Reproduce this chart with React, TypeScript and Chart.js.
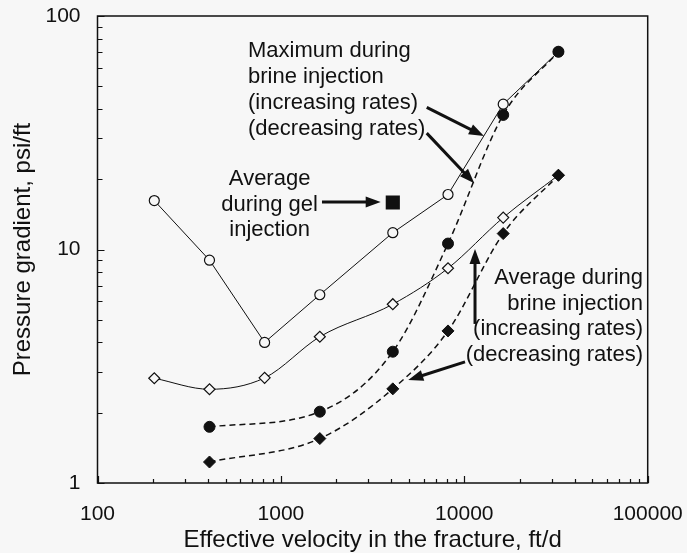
import React, { useEffect, useRef } from 'react';
import { Chart, registerables } from 'chart.js';

Chart.register(...registerables);

// ---- data ----
const VELOCITY_INCREASING = [204, 408, 815, 1630, 4075, 8150, 16300, 32600];
const VELOCITY_DECREASING = [408, 1630, 4075, 8150, 16300, 32600];
const MAX_BRINE_INCREASING = [16.2, 9.0, 4.0, 6.4, 11.8, 17.2, 41.9, 70.3];
const MAX_BRINE_DECREASING = [1.74, 2.02, 3.65, 10.6, 37.7, 70.3];
const AVG_BRINE_INCREASING = [2.81, 2.52, 2.82, 4.23, 5.83, 8.31, 13.7, 20.8];
const AVG_BRINE_DECREASING = [1.23, 1.55, 2.53, 4.48, 11.7, 20.8];
const GEL_VELOCITY = [4075];
const GEL_AVERAGE = [15.9];

const X_MAJOR = [100, 1000, 10000, 100000];
const Y_MAJOR = [1, 10, 100];
const X_TICK_LABELS = ['100', '1000', '10000', '100000'];
const Y_TICK_LABELS = ['1', '10', '100'];

const X_TITLE = 'Effective velocity in the fracture, ft/d';
const Y_TITLE = 'Pressure gradient, psi/ft';

// annotation texts (anchored in data coordinates)
const NOTE_MAX_LINES = ['Maximum during', 'brine injection', '(increasing rates)', '(decreasing rates)'];
const NOTE_GEL_LINES = ['Average', 'during gel', 'injection'];
const NOTE_AVG_LINES = ['Average during', 'brine injection', '(increasing rates)', '(decreasing rates)'];

const NOTE_MAX_ANCHOR = { x: 662, y: 71.1 };
const NOTE_GEL_ANCHOR = { x: 868, y: 20.1 };
const NOTE_AVG_ANCHOR = { x: 94300, y: 7.55 };

const ARROWS = [
  { from: { x: 6240, y: 40.6 }, to: { x: 12800, y: 30.6 } },
  { from: { x: 6240, y: 31.5 }, to: { x: 11340, y: 19.2 } },
  { from: { x: 1675, y: 15.97 }, to: { x: 3500, y: 15.97 } },
  { from: { x: 11440, y: 4.8 }, to: { x: 11440, y: 10.05 } },
  { from: { x: 10090, y: 3.3 }, to: { x: 4950, y: 2.76 } },
];

function minorTicks(majors: number[]): number[] {
  const out: number[] = [];
  for (let i = 0; i < majors.length; i++) {
    out.push(majors[i]);
    if (i < majors.length - 1) {
      for (let k = 2; k <= 9; k++) out.push(majors[i] * k);
    }
  }
  return out;
}
const X_TICKS = minorTicks(X_MAJOR);
const Y_TICKS = minorTicks(Y_MAJOR);

const FONT = '"Liberation Sans", Arial, Helvetica, sans-serif';
const BG = '#f7f7f7';
const INK = '#111111';

function pts(xs: number[], ys: number[]) {
  return xs.map((x, i) => ({ x, y: ys[i] }));
}

function drawArrow(ctx: CanvasRenderingContext2D, x1: number, y1: number, x2: number, y2: number) {
  const ang = Math.atan2(y2 - y1, x2 - x1);
  const head = 15;
  const hw = 5.5;
  const bx = x2 - head * Math.cos(ang);
  const by = y2 - head * Math.sin(ang);
  ctx.lineWidth = 3;
  ctx.beginPath();
  ctx.moveTo(x1, y1);
  ctx.lineTo(bx + Math.cos(ang), by + Math.sin(ang));
  ctx.stroke();
  ctx.beginPath();
  ctx.moveTo(x2, y2);
  ctx.lineTo(bx + hw * Math.sin(ang), by - hw * Math.cos(ang));
  ctx.lineTo(bx - hw * Math.sin(ang), by + hw * Math.cos(ang));
  ctx.closePath();
  ctx.fill();
}

function zeroPadding(s: any) {
  s.paddingTop = 0;
  s.paddingBottom = 0;
  s.paddingLeft = 0;
  s.paddingRight = 0;
}

const decorPlugin = {
  id: 'decor',
  beforeDraw(chart: any) {
    const { ctx, width, height } = chart;
    ctx.save();
    ctx.fillStyle = BG;
    ctx.fillRect(0, 0, width, height);
    ctx.restore();
  },
  afterDraw(chart: any) {
    const { ctx, chartArea } = chart;
    const xs = chart.scales.x;
    const ys = chart.scales.y;
    ctx.save();
    ctx.strokeStyle = INK;
    ctx.fillStyle = INK;
    // frame
    ctx.lineWidth = 1.5;
    ctx.strokeRect(chartArea.left, chartArea.top, chartArea.right - chartArea.left, chartArea.bottom - chartArea.top);
    // inward tick marks
    ctx.lineWidth = 1.2;
    ctx.beginPath();
    X_TICKS.forEach((v) => {
      const px = Math.round(xs.getPixelForValue(v)) + 0.5;
      const len = X_MAJOR.includes(v) ? 7 : 4;
      ctx.moveTo(px, chartArea.bottom);
      ctx.lineTo(px, chartArea.bottom - len);
    });
    Y_TICKS.forEach((v) => {
      const py = Math.round(ys.getPixelForValue(v)) + 0.5;
      const len = Y_MAJOR.includes(v) ? 7 : 5;
      ctx.moveTo(chartArea.left, py);
      ctx.lineTo(chartArea.left + len, py);
    });
    ctx.stroke();

    // annotation texts
    ctx.font = `22px ${FONT}`;
    ctx.textBaseline = 'middle';
    const drawLines = (lines: string[], anchor: { x: number; y: number }, align: CanvasTextAlign, lh: number) => {
      const ax = xs.getPixelForValue(anchor.x);
      const ay = ys.getPixelForValue(anchor.y);
      ctx.textAlign = align;
      lines.forEach((t, i) => ctx.fillText(t, ax, ay + i * lh));
    };
    drawLines(NOTE_MAX_LINES, NOTE_MAX_ANCHOR, 'left', 26);
    drawLines(NOTE_GEL_LINES, NOTE_GEL_ANCHOR, 'center', 25.8);
    drawLines(NOTE_AVG_LINES, NOTE_AVG_ANCHOR, 'right', 25.7);

    // arrows
    ARROWS.forEach((a) => {
      drawArrow(
        ctx,
        xs.getPixelForValue(a.from.x),
        ys.getPixelForValue(a.from.y),
        xs.getPixelForValue(a.to.x),
        ys.getPixelForValue(a.to.y)
      );
    });
    ctx.restore();
  },
};

export default function App() {
  const canvasRef = useRef<HTMLCanvasElement | null>(null);

  useEffect(() => {
    const canvas = canvasRef.current;
    if (!canvas) return;
    const chart = new Chart(canvas, {
      type: 'line',
      data: {
        datasets: [
          {
            label: 'Maximum during brine injection (decreasing rates)',
            data: pts(VELOCITY_DECREASING, MAX_BRINE_DECREASING),
            borderColor: INK,
            backgroundColor: INK,
            borderWidth: 1.5,
            borderDash: [6, 4],
            cubicInterpolationMode: 'monotone',
            pointStyle: 'circle',
            pointRadius: 5.5,
            pointBackgroundColor: INK,
            pointBorderColor: INK,
            pointBorderWidth: 1,
          },
          {
            label: 'Average during brine injection (decreasing rates)',
            data: pts(VELOCITY_DECREASING, AVG_BRINE_DECREASING),
            borderColor: INK,
            backgroundColor: INK,
            borderWidth: 1.5,
            borderDash: [6, 4],
            cubicInterpolationMode: 'monotone',
            pointStyle: 'rectRot',
            pointRadius: 6,
            pointBackgroundColor: INK,
            pointBorderColor: INK,
            pointBorderWidth: 1,
          },
          {
            label: 'Average during gel injection',
            data: pts(GEL_VELOCITY, GEL_AVERAGE),
            showLine: false,
            borderColor: INK,
            backgroundColor: INK,
            pointStyle: 'rect',
            pointRadius: 10,
            pointBackgroundColor: INK,
            pointBorderColor: INK,
            pointBorderWidth: 0,
          },
          {
            label: 'Maximum during brine injection (increasing rates)',
            data: pts(VELOCITY_INCREASING, MAX_BRINE_INCREASING),
            borderColor: INK,
            backgroundColor: BG,
            borderWidth: 1,
            tension: 0,
            pointStyle: 'circle',
            pointRadius: 5,
            pointBackgroundColor: BG,
            pointBorderColor: INK,
            pointBorderWidth: 1.2,
          },
          {
            label: 'Average during brine injection (increasing rates)',
            data: pts(VELOCITY_INCREASING, AVG_BRINE_INCREASING),
            borderColor: INK,
            backgroundColor: BG,
            borderWidth: 1,
            cubicInterpolationMode: 'monotone',
            pointStyle: 'rectRot',
            pointRadius: 5.5,
            pointBackgroundColor: BG,
            pointBorderColor: INK,
            pointBorderWidth: 1.2,
          },
        ],
      },
      options: {
        responsive: false,
        animation: false,
        devicePixelRatio: 1,
        layout: { padding: { top: 16, right: 39.3, left: 0, bottom: 0 } },
        plugins: {
          legend: { display: false },
          tooltip: { enabled: false },
        },
        elements: { line: { fill: false } },
        scales: {
          x: {
            type: 'logarithmic',
            min: 100,
            max: 100000,
            afterBuildTicks: (s: any) => {
              s.ticks = X_TICKS.map((v) => ({ value: v, major: X_MAJOR.includes(v) }));
            },
            afterFit: (s: any) => {
              s.height = 70;
              zeroPadding(s);
            },
            grid: { display: false, drawTicks: false },
            border: { display: false },
            ticks: {
              autoSkip: false,
              maxRotation: 0,
              minRotation: 0,
              padding: 19,
              color: INK,
              font: { family: FONT, size: 21 },
              callback: (v: any) => {
                const i = X_MAJOR.indexOf(Number(v));
                return i >= 0 ? X_TICK_LABELS[i] : '';
              },
            },
            title: {
              display: true,
              text: X_TITLE,
              color: INK,
              font: { family: FONT, size: 24, lineHeight: 1 },
              padding: { top: 0, bottom: 1 },
            },
          },
          y: {
            type: 'logarithmic',
            min: 1,
            max: 100,
            afterBuildTicks: (s: any) => {
              s.ticks = Y_TICKS.map((v) => ({ value: v, major: Y_MAJOR.includes(v) }));
            },
            afterFit: (s: any) => {
              s.width = 97.5;
              zeroPadding(s);
            },
            grid: { display: false, drawTicks: false },
            border: { display: false },
            ticks: {
              autoSkip: false,
              padding: 17,
              color: INK,
              font: { family: FONT, size: 21 },
              callback: (v: any) => {
                const i = Y_MAJOR.indexOf(Number(v));
                return i >= 0 ? Y_TICK_LABELS[i] : '';
              },
            },
            title: {
              display: true,
              text: Y_TITLE,
              color: INK,
              font: { family: FONT, size: 24, lineHeight: 1.2 },
              padding: { top: 9, bottom: 0 },
            },
          },
        },
      },
      plugins: [decorPlugin],
    });
    return () => chart.destroy();
  }, []);

  return (
    <div style={{ position: 'absolute', left: 0, top: 0, width: 687, height: 553, background: BG }}>
      <canvas ref={canvasRef} width={687} height={553} style={{ display: 'block' }} />
    </div>
  );
}
